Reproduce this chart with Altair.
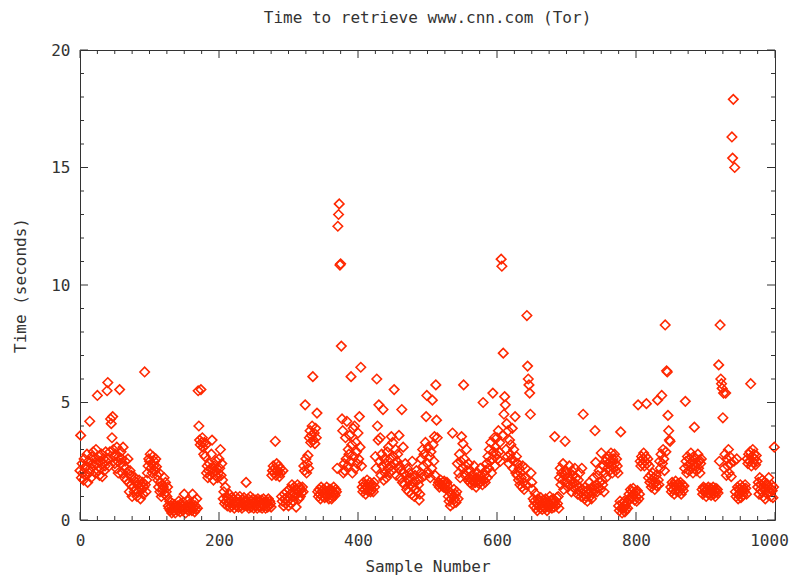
import altair as alt
import pandas as pd

# Retrieval times (seconds), samples 0..999
t000 = [2.1, 3.6, 1.8, 2.4, 2.0, 1.7, 2.6, 2.2, 1.9, 2.3, 2.8, 1.6, 2.5, 2.0, 4.2, 2.2, 1.8, 2.7, 2.4, 2.9,
        2.3, 2.6, 2.0, 3.0, 2.4, 5.3, 2.1, 2.7, 1.9, 2.5, 2.2, 2.8, 1.85, 2.4, 2.6, 2.1, 2.3, 2.9, 2.5, 5.5,
        5.85, 2.6, 2.3, 2.9, 4.3, 4.1, 3.5, 4.4, 3.0, 2.7, 2.4, 2.8, 2.2, 3.1, 2.5, 2.0, 2.7, 5.55, 2.4, 2.9,
        2.6, 2.0, 3.1, 2.3, 1.8, 2.5, 2.2, 1.7, 2.0, 2.6, 1.6, 1.2, 2.1, 1.5, 1.9, 1.0, 1.4, 1.7, 1.2, 1.8,
        1.3, 1.6, 1.0, 1.5, 1.2, 1.7, 1.4, 0.9, 1.5, 1.3, 1.6, 1.1, 1.4, 6.3, 1.5, 1.2, 1.7, 2.0, 2.3, 2.6]
t100 = [2.5, 2.8, 2.2, 2.4, 2.0, 2.7, 2.3, 2.5, 2.1, 2.6, 2.27, 1.9, 1.7, 1.4, 2.0, 1.2, 1.6, 1.0, 1.5, 1.3,
        1.4, 1.8, 1.1, 1.6, 1.2, 1.0, 1.4, 0.6, 0.5, 0.8, 0.4, 0.6, 0.3, 0.7, 0.5, 0.4, 0.65, 0.3, 0.55, 0.45,
        0.6, 0.4, 0.8, 0.5, 0.35, 0.7, 0.5, 0.6, 0.4, 0.75, 1.1, 0.5, 0.3, 0.6, 0.45, 0.8, 0.55, 0.4, 0.7, 0.5,
        0.6, 0.4, 1.1, 0.5, 0.8, 0.35, 0.6, 0.45, 0.9, 0.5, 5.5, 4.0, 3.4, 3.2, 5.55, 3.3, 3.5, 3.1, 2.8, 3.3,
        2.7, 3.2, 2.0, 2.3, 1.8, 2.1, 2.4, 1.9, 2.2, 2.8, 3.4, 2.0, 1.7, 2.3, 2.1, 1.9, 2.5, 2.2, 1.8, 2.0]
t200 = [2.6, 2.2, 3.0, 1.9, 2.4, 1.7, 0.9, 1.2, 0.7, 1.4, 0.8, 1.0, 0.6, 0.9, 0.75, 1.1, 0.55, 0.8, 0.95, 0.6,
        0.7, 0.9, 0.5, 0.8, 1.0, 0.6, 0.75, 0.9, 0.55, 0.7, 1.0, 0.8, 0.6, 0.5, 0.85, 0.7, 0.95, 0.6, 0.75, 1.6,
        0.8, 0.6, 0.9, 0.5, 0.7, 1.0, 0.55, 0.8, 0.65, 0.9, 0.5, 0.75, 0.6, 0.85, 0.7, 0.5, 0.9, 0.6, 0.8, 0.55,
        0.7, 0.85, 0.5, 0.65, 0.9, 0.6, 0.75, 0.5, 0.8, 0.7, 0.55, 0.9, 0.6, 0.8, 0.7, 0.55, 1.9, 2.1, 2.3, 2.0,
        2.2, 3.35, 1.9, 2.4, 2.1, 2.0, 2.3, 1.85, 2.2, 2.0, 1.0, 0.8, 2.1, 0.6, 1.1, 0.9, 0.7, 1.2, 0.8, 1.0]
t300 = [0.6, 1.3, 0.9, 1.1, 0.7, 1.5, 1.2, 0.8, 1.4, 1.0, 1.3, 0.55, 1.1, 1.5, 1.2, 0.9, 1.4, 1.0, 1.3, 1.15,
        1.4, 1.2, 2.3, 2.1, 4.9, 2.6, 2.0, 2.4, 2.75, 2.2, 3.5, 3.8, 3.3, 3.6, 4.0, 6.1, 3.4, 3.7, 3.25, 3.9,
        3.5, 4.55, 1.2, 1.0, 1.3, 1.1, 0.9, 1.4, 1.2, 1.0, 1.3, 1.15, 0.95, 1.25, 1.1, 1.4, 1.0, 1.2, 0.9, 1.3,
        1.1, 1.3, 0.9, 1.2, 1.0, 1.4, 1.15, 1.05, 1.3, 1.2, 2.2, 12.5, 13.0, 13.45, 10.85, 10.9, 7.4, 4.3, 3.8, 2.0,
        2.4, 2.1, 3.5, 2.6, 4.2, 2.3, 3.0, 2.8, 3.6, 2.5, 6.1, 3.2, 2.0, 3.9, 2.7, 4.0, 2.2, 3.3, 2.9, 2.4]
t400 = [3.7, 2.6, 4.4, 3.1, 6.5, 2.3, 1.4, 1.2, 1.6, 1.3, 1.5, 1.1, 1.4, 1.7, 1.25, 1.5, 1.3, 1.6, 1.2, 1.45,
        1.3, 1.5, 1.2, 1.6, 1.4, 2.7, 2.2, 6.0, 4.0, 3.4, 4.9, 2.5, 3.5, 1.9, 2.8, 2.3, 4.7, 1.7, 2.6, 2.0,
        2.4, 1.8, 2.9, 2.2, 3.1, 2.0, 2.6, 2.3, 3.55, 2.1, 3.3, 2.7, 5.55, 2.4, 3.0, 1.9, 2.5, 2.8, 2.2, 3.6,
        2.3, 1.8, 2.1, 4.7, 1.6, 3.1, 2.0, 1.5, 2.4, 1.9, 1.3, 2.2, 1.7, 1.2, 2.0, 1.5, 1.8, 1.1, 2.5, 1.4,
        1.6, 1.0, 1.9, 1.3, 2.1, 1.2, 1.7, 1.5, 0.85, 1.1, 2.0, 2.6, 1.8, 3.0, 2.3, 2.8, 1.9, 3.3, 4.4, 5.3]
t500 = [2.4, 3.1, 2.0, 2.7, 1.8, 2.9, 2.2, 5.1, 3.2, 2.5, 3.55, 1.9, 5.75, 4.25, 3.5, 1.5, 1.6, 1.4, 1.55, 1.7,
        1.5, 1.45, 1.6, 1.4, 1.65, 1.5, 1.35, 1.55, 1.6, 1.45, 1.0, 0.8, 1.2, 0.6, 0.9, 1.1, 3.7, 0.7, 1.3, 0.9,
        1.1, 0.75, 1.2, 2.4, 0.9, 2.0, 2.8, 1.8, 2.5, 3.55, 2.2, 3.25, 5.75, 2.6, 1.9, 2.3, 3.0, 2.1, 1.7, 2.4,
        1.8, 1.6, 2.1, 1.7, 1.5, 1.9, 1.65, 2.3, 1.75, 1.6, 1.4, 1.8, 2.0, 1.7, 1.55, 1.85, 2.2, 1.65, 1.75, 1.5,
        5.0, 1.7, 1.9, 1.6, 2.1, 2.4, 1.8, 2.7, 2.2, 3.0, 2.5, 3.3, 2.0, 2.6, 5.4, 2.9, 3.5, 2.3, 3.1, 2.8]
t600 = [3.5, 2.6, 3.8, 2.9, 3.3, 2.5, 11.1, 10.8, 3.6, 7.1, 4.5, 5.25, 4.9, 3.0, 4.1, 2.7, 3.8, 2.4, 3.4, 2.8,
        3.2, 2.6, 3.9, 2.2, 3.0, 2.5, 4.4, 2.0, 2.7, 1.9, 2.4, 1.7, 2.2, 1.5, 2.0, 1.8, 1.4, 2.3, 1.6, 1.3,
        1.8, 2.2, 1.5, 8.7, 6.55, 6.0, 5.75, 5.4, 4.5, 2.0, 1.6, 1.3, 0.9, 0.6, 0.8, 1.13, 0.5, 0.7, 0.4, 0.9,
        0.6, 0.8, 0.5, 0.95, 0.7, 0.45, 0.85, 0.6, 0.75, 0.5, 0.9, 0.65, 0.4, 0.8, 0.55, 0.7, 1.0, 0.6, 0.85, 0.5,
        0.7, 0.9, 0.55, 3.55, 0.8, 0.6, 0.95, 0.7, 1.0, 0.5, 1.8, 2.2, 1.5, 2.0, 1.7, 2.4, 1.3, 1.9, 3.35, 2.1]
t700 = [1.6, 2.0, 1.4, 1.8, 2.3, 1.5, 1.7, 1.2, 2.1, 1.9, 1.4, 1.6, 2.2, 1.3, 1.8, 1.5, 1.1, 1.7, 1.4, 2.0,
        1.2, 1.0, 2.2, 1.3, 4.5, 1.1, 0.9, 1.4, 1.0, 1.2, 0.8, 1.3, 1.1, 1.6, 1.0, 1.2, 0.9, 1.4, 1.15, 1.8,
        1.3, 3.8, 2.45, 1.5, 1.2, 1.9, 1.4, 2.1, 1.6, 1.3, 2.85, 1.7, 1.5, 2.3, 1.2, 2.0, 2.5, 1.8, 2.6, 2.2,
        2.4, 2.7, 2.1, 2.5, 2.85, 2.3, 2.0, 2.6, 2.2, 2.8, 2.4, 2.1, 2.6, 2.3, 2.0, 0.6, 0.4, 0.8, 3.75, 0.5,
        0.3, 0.7, 0.5, 0.8, 0.35, 0.6, 0.45, 0.75, 0.5, 0.85, 1.1, 0.9, 1.3, 1.0, 1.2, 0.95, 1.35, 1.1, 0.85, 1.2]
t800 = [1.0, 0.8, 1.25, 4.9, 0.9, 1.1, 2.5, 2.3, 2.7, 2.4, 2.6, 2.85, 2.3, 2.5, 2.7, 4.95, 2.4, 2.6, 1.8, 2.3,
        1.6, 1.9, 1.4, 1.7, 2.0, 1.5, 1.8, 1.3, 1.6, 1.9, 1.45, 5.1, 1.7, 1.5, 2.5, 2.2, 2.8, 5.3, 2.4, 3.0,
        2.6, 2.1, 8.3, 2.9, 6.35, 6.3, 4.45, 3.8, 3.4, 3.35, 1.4, 1.2, 1.6, 1.3, 1.5, 1.1, 1.45, 1.65, 1.25, 1.5,
        1.3, 1.55, 1.2, 1.4, 1.6, 1.1, 1.35, 1.5, 1.25, 1.45, 2.2, 5.05, 2.5, 2.0, 2.7, 2.3, 2.1, 2.6, 2.4, 2.85,
        2.2, 2.5, 2.0, 2.7, 3.95, 2.3, 2.6, 2.1, 2.4, 2.8, 2.2, 2.55, 2.0, 2.4, 2.6, 1.3, 1.1, 1.4, 1.2, 1.35]
t900 = [1.2, 1.0, 1.3, 1.15, 1.4, 1.1, 1.25, 1.35, 1.05, 1.3, 1.2, 1.4, 1.1, 1.25, 1.0, 1.35, 1.2, 1.3, 1.15, 6.6,
        2.5, 8.3, 6.0, 5.8, 5.6, 4.35, 5.4, 2.2, 2.8, 5.4, 1.9, 2.6, 2.3, 3.0, 2.0, 2.7, 2.4, 1.85, 16.3, 15.4,
        17.9, 2.5, 15.0, 1.2, 1.0, 2.6, 1.4, 0.9, 1.3, 1.1, 1.5, 0.95, 1.25, 1.4, 1.05, 1.3, 1.2, 1.5, 1.35, 1.1,
        2.6, 2.4, 2.8, 2.5, 2.9, 5.8, 2.3, 2.7, 3.0, 2.45, 2.8, 2.6, 2.35, 2.75, 2.5, 1.4, 1.6, 1.1, 1.8, 1.3,
        1.5, 1.2, 1.7, 1.0, 1.4, 1.6, 0.9, 1.3, 1.55, 1.1, 1.45, 1.8, 1.2, 1.35, 1.0, 1.5, 1.25, 0.95, 1.4, 3.1]

times = t000 + t100 + t200 + t300 + t400 + t500 + t600 + t700 + t800 + t900
df = pd.DataFrame({"sample": list(range(len(times))), "time": times})

x_major = [0, 200, 400, 600, 800, 1000]
x_minor = [v for v in range(0, 1001, 25) if v % 200 != 0]
y_major = [0, 5, 10, 15, 20]
y_minor = [v for v in range(0, 21) if v % 5 != 0]

W, H = 695, 470
FONT = "DejaVu Sans Mono"
TXT = "#333333"
FRAME = "#333333"

xs = alt.Scale(domain=[0, 1000], nice=False, zero=False)
ys = alt.Scale(domain=[0, 20], nice=False, zero=False)

xaxis = alt.Axis(values=x_major, format="d", title="Sample Number", ticks=False, tickSize=0,
                 domain=False, grid=False, labelPadding=12, labelFlush=False,
                 labelOffset={"condition": {"test": "datum.value == 1000", "value": -6}, "value": 0},
                 titleY=46, titleBaseline="middle")
yaxis = alt.Axis(values=y_major, format="d", title="Time (seconds)", ticks=False, tickSize=0,
                 domain=False, grid=False, labelPadding=10, labelFlush=False,
                 titleX=-60, titleY=H / 2, titleBaseline="middle", titleAngle=270)

points = alt.Chart(df).mark_point(
    shape="diamond", filled=False, size=90, strokeWidth=1.6, color="#ff2800", opacity=1
).encode(
    x=alt.X("sample:Q", scale=xs, axis=xaxis),
    y=alt.Y("time:Q", scale=ys, axis=yaxis),
)

def xticks(vals, y0, y1):
    return alt.Chart(pd.DataFrame({"v": vals})).mark_rule(color=FRAME, strokeWidth=1).encode(
        x=alt.X("v:Q", scale=xs, axis=xaxis), y=alt.value(y0), y2=alt.value(y1))

def yticks(vals, x0, x1):
    return alt.Chart(pd.DataFrame({"v": vals})).mark_rule(color=FRAME, strokeWidth=1).encode(
        y=alt.Y("v:Q", scale=ys, axis=yaxis), x=alt.value(x0), x2=alt.value(x1))

layers = [
    points,
    xticks(x_major, H, H - 8), xticks(x_major, 0, 8),
    xticks(x_minor, H, H - 4), xticks(x_minor, 0, 4),
    yticks(y_major, 0, 8), yticks(y_major, W, W - 8),
    yticks(y_minor, 0, 4), yticks(y_minor, W, W - 4),
]

chart = alt.layer(*layers).properties(
    width=W, height=H,
    autosize="none",
    padding={"left": 72, "top": 42, "right": 14, "bottom": 56},
    title=alt.TitleParams("Time to retrieve www.cnn.com (Tor)", font=FONT, fontSize=16,
                          fontWeight="normal", color=TXT, anchor="middle", offset=16),
).configure_view(stroke=FRAME, strokeWidth=1).configure_axis(
    labelFont=FONT, labelFontSize=16, labelColor=TXT,
    titleFont=FONT, titleFontSize=16, titleColor=TXT, titleFontWeight="normal",
)

chart.save("out.html", embed_options={"renderer": "svg", "actions": False})
